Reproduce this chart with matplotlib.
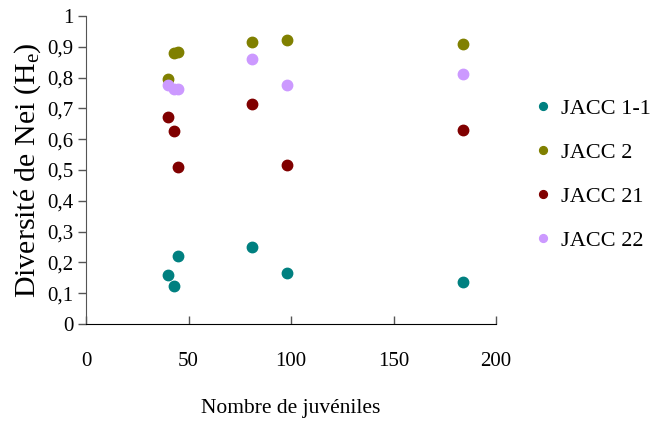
import matplotlib
matplotlib.use("Agg")
import matplotlib.pyplot as plt
from matplotlib.ticker import FixedLocator, FuncFormatter

plt.rcParams["font.family"] = ["Liberation Serif", "DejaVu Serif"]
plt.rcParams["mathtext.fontset"] = "custom"
plt.rcParams["mathtext.rm"] = "Liberation Serif"
plt.rcParams["mathtext.it"] = "Liberation Serif"

# Number of juveniles per sample
juveniles = [40, 43, 45, 81, 98, 184]

# Nei's diversity for each line
jacc_1_1 = [0.159, 0.123, 0.220, 0.250, 0.166, 0.135]
jacc_2 = [0.795, 0.879, 0.884, 0.916, 0.921, 0.910]
jacc_21 = [0.673, 0.626, 0.511, 0.715, 0.516, 0.631]
jacc_22 = [0.777, 0.763, 0.762, 0.860, 0.777, 0.813]

series_names = ["JACC 1-1", "JACC 2", "JACC 21", "JACC 22"]
series_values = [jacc_1_1, jacc_2, jacc_21, jacc_22]
series_colors = ["#008080", "#808000", "#800000", "#CC99FF"]

x_ticks = [0, 50, 100, 150, 200]
y_ticks = [0, 0.1, 0.2, 0.3, 0.4, 0.5, 0.6, 0.7, 0.8, 0.9, 1.0]

fig = plt.figure(figsize=(6.54, 4.28), dpi=100)
ax = fig.add_axes([86 / 654, 104 / 428, 410 / 654, 308 / 428])

for name, vals, col in zip(series_names, series_values, series_colors):
    ax.plot(juveniles, vals, linestyle="none", marker="o", markersize=7.5,
            color=col, markeredgecolor=col, label=name)

ax.set_xlim(0, 200)
ax.set_ylim(0, 1)
ax.xaxis.set_major_locator(FixedLocator(x_ticks))
ax.yaxis.set_major_locator(FixedLocator(y_ticks))


def comma_fmt(v, pos):
    if abs(v - round(v)) < 1e-9:
        return f"{int(round(v))}"
    return f"{v:.1f}".replace(".", ",")


ax.yaxis.set_major_formatter(FuncFormatter(comma_fmt))
ax.xaxis.set_major_formatter(FuncFormatter(comma_fmt))

for side in ("top", "right"):
    ax.spines[side].set_visible(False)
ax.spines["left"].set_color("#555555")
ax.spines["bottom"].set_color("black")
ax.tick_params(axis="y", direction="out", length=6, width=1, colors="#555555",
               labelcolor="black", labelsize=15, pad=3)
ax.tick_params(axis="x", direction="in", length=6, width=1, colors="#555555",
               labelcolor="black", labelsize=15, pad=20)

ax.set_xlabel("Nombre de juvéniles", fontsize=15.5, labelpad=20)
ax.set_ylabel("Diversité de Nei (H$_\\mathrm{e}$)", fontsize=21.5, labelpad=3)

ax.legend(loc="center left", bbox_to_anchor=(1.05, 0.485), frameon=False,
          fontsize=16, handlelength=0.6, handletextpad=0.5, labelspacing=1.05,
          markerscale=0.75)

fig.savefig("out.png", dpi=100)
